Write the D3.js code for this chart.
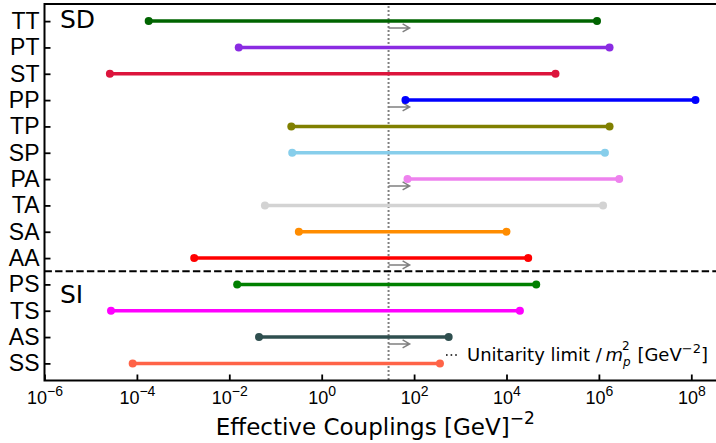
<!DOCTYPE html>
<html>
<head>
<meta charset="utf-8">
<script src="https://d3js.org/d3.v7.min.js"></script>
<style>
  body { margin: 0; background: #fff; }
  svg { font-family: 'DejaVu Sans', sans-serif; }
</style>
</head>
<body>
<svg width="716" height="443"></svg>
<script>
  // operator pairs, top to bottom
  const labels = ['TT', 'PT', 'ST', 'PP', 'TP', 'SP', 'PA', 'TA', 'SA', 'AA', 'PS', 'TS', 'AS', 'SS'];
  const lows  = [1.8e-4, 1.6e-2, 2.6e-5, 65, 0.22, 0.23, 72, 0.059, 0.32, 1.74e-3, 1.48e-2, 2.75e-5, 0.044, 8.1e-5];
  const highs = [9.1e5, 1.7e6, 1.15e5, 1.23e8, 1.7e6, 1.35e6, 2.75e6, 1.23e6, 1.0e4, 2.95e4, 4.4e4, 1.95e4, 560, 363];
  const colors = ['#006400', '#8a2be2', '#dc143c', '#0000ff', '#808000', '#87ceeb', '#ee82ee', '#d3d3d3',
                  '#ff8c00', '#ff0000', '#008000', '#ff00ff', '#2f4f4f', '#ff6347'];
  const arrowRows = ['TT', 'PP', 'PA', 'AA', 'AS'];
  const unitarity = 28;
  const arrowEnd = 80;
  const xTicks = [1e-6, 1e-4, 1e-2, 1e0, 1e2, 1e4, 1e6, 1e8];

  const svg = d3.select('svg');
  const mLeft = 44.5, mTop = 4, mBottom = 380.5;

  const x = d3.scaleLog().domain([1e-6, Math.pow(10, 8.6)]).range([mLeft, mLeft + 46.2 * 14.6]);
  const y = d3.scaleLinear().domain([-0.65, 13.65]).range([mTop, mBottom]);
  const mRight = x.range()[1];

  // unitarity limit (dotted)
  svg.append('line')
    .attr('x1', x(unitarity)).attr('x2', x(unitarity))
    .attr('y1', mTop + 2).attr('y2', mBottom)
    .attr('stroke', '#808080').attr('stroke-width', 2)
    .attr('stroke-dasharray', '2,2');

  // SD / SI separator
  svg.append('line')
    .attr('x1', mLeft).attr('x2', mRight)
    .attr('y1', y(9.5)).attr('y2', y(9.5))
    .attr('stroke', '#000').attr('stroke-width', 2)
    .attr('stroke-dasharray', '7.4,3.2');

  // arrows
  const arr = svg.append('g');
  arrowRows.forEach(r => {
    const yy = y(labels.indexOf(r) + 0.26);
    const x0 = x(unitarity), x1 = x(arrowEnd);
    arr.append('path')
      .attr('d', `M${x0},${yy}H${x1}M${x1 - 7},${yy - 4}L${x1},${yy}L${x1 - 7},${yy + 4}`)
      .attr('fill', 'none').attr('stroke', '#808080').attr('stroke-width', 1.5);
  });

  // ranges
  const rows = svg.append('g');
  labels.forEach((l, i) => {
    rows.append('line')
      .attr('x1', x(lows[i])).attr('x2', x(highs[i]))
      .attr('y1', y(i)).attr('y2', y(i))
      .attr('stroke', colors[i]).attr('stroke-width', 3.5);
    [lows[i], highs[i]].forEach(v => {
      rows.append('circle').attr('cx', x(v)).attr('cy', y(i)).attr('r', 4).attr('fill', colors[i]);
    });
  });

  // axes
  const xAxis = d3.axisBottom(x).tickValues(xTicks).tickSize(-6).tickPadding(11).tickFormat(() => '');
  const gx = svg.append('g').attr('transform', `translate(0,${mBottom})`).call(xAxis);
  gx.select('.domain').remove();
  gx.selectAll('.tick line').attr('stroke-width', 1.8);
  gx.selectAll('.tick text').each(function(d) {
    const t = d3.select(this).attr('font-size', 18).attr('fill', '#000');
    t.append('tspan').text('10');
    t.append('tspan').attr('dy', -8).attr('font-size', 14).text(String(Math.round(Math.log10(d))).replace('-', '\u2212'));
  });

  const yAxis = d3.axisLeft(y).tickValues(d3.range(labels.length)).tickSize(-6).tickPadding(5)
    .tickFormat(i => labels[i]);
  const gy = svg.append('g').attr('transform', `translate(${mLeft},0)`).call(yAxis);
  gy.select('.domain').remove();
  gy.selectAll('.tick line').attr('stroke-width', 1.8);
  gy.selectAll('.tick text').attr('font-size', 23).attr('fill', '#000');

  // frame
  svg.append('rect')
    .attr('x', mLeft).attr('y', mTop).attr('width', mRight - mLeft).attr('height', mBottom - mTop)
    .attr('fill', 'none').attr('stroke', '#000').attr('stroke-width', 2);

  svg.append('text').attr('x', 60).attr('y', 28).attr('font-size', 25).text('SD');
  svg.append('text').attr('x', 60).attr('y', 303).attr('font-size', 25).text('SI');

  // legend
  svg.append('line')
    .attr('x1', 446).attr('x2', 458).attr('y1', 355).attr('y2', 355)
    .attr('stroke', '#000').attr('stroke-width', 1.6).attr('stroke-dasharray', '1.6,3');
  const leg = svg.append('text').attr('x', 467).attr('y', 361).attr('font-size', 18);
  leg.append('tspan').text('Unitarity limit /\u2009');
  leg.append('tspan').attr('font-style', 'italic').text('m');
  leg.append('tspan').attr('font-size', 12).attr('font-style', 'italic').attr('dy', 5).text('p');
  const sq = svg.append('text').attr('font-size', 12).text('2');
  leg.append('tspan').attr('dy', -5).attr('dx', 1).text(' [GeV');
  leg.append('tspan').attr('font-size', 13).attr('dy', -8).text('\u22122');
  leg.append('tspan').attr('dy', 8).text(']');
  // place the squared exponent above the subscript
  const pBox = leg.selectAll('tspan').nodes()[2].getBBox();
  sq.attr('x', pBox.x).attr('y', 350);

  // x label
  const xl = svg.append('text').attr('x', (mLeft + 716) / 2 - 5).attr('y', 435)
    .attr('text-anchor', 'middle').attr('font-size', 23);
  xl.append('tspan').text('Effective Couplings [GeV]');
  xl.append('tspan').attr('font-size', 17).attr('dy', -11).text('\u22122');
</script>
</body>
</html>
